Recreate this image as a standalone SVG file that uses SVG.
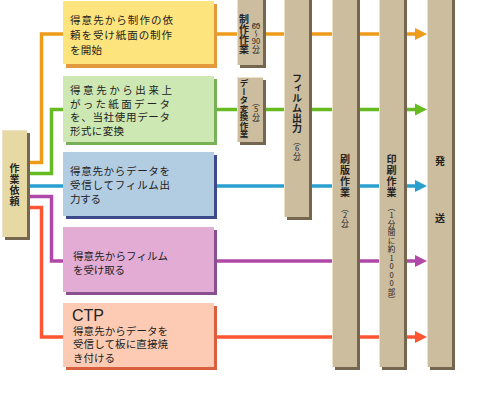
<svg xmlns="http://www.w3.org/2000/svg" xmlns:xlink="http://www.w3.org/1999/xlink" width="490" height="414" viewBox="0 0 490 414">
<style>
.bt{font-family:"Noto Sans CJK JP",sans-serif;font-size:10.5px;fill:#222}
.ctp{font-family:"Liberation Sans",Arial,sans-serif;font-size:16px;fill:#222}
.vt{font-family:"Noto Sans CJK JP",sans-serif;font-weight:bold;font-size:10px;fill:#222;writing-mode:vertical-rl}
.sm{font-family:"Noto Sans CJK JP",sans-serif;font-size:7.5px;fill:#222;writing-mode:vertical-rl;text-orientation:upright}
.col{fill:#cbbd9e}
.csh{fill:#75664f}
.chl{stroke:#ece2c8;stroke-width:1;fill:none}
.ln{fill:none;stroke-width:3.5}
</style>
<defs>
<path id="ah" d="M0,-6 L12,0 L0,6 Z"/>
</defs>
<rect width="490" height="414" fill="#fff"/>
<g id="connectors">
<path class="ln" stroke="#ee9a1a" d="M28,162.5 H41.5 V34 H416"/>
<path class="ln" stroke="#66bb22" d="M28,173.5 H51.5 V109.5 H416"/>
<path class="ln" stroke="#2aa0d0" d="M28,186 H416"/>
<path class="ln" stroke="#b048a8" d="M28,196.5 H51.5 V261 H416"/>
<path class="ln" stroke="#ff5533" d="M28,207.5 H41.5 V337 H416"/>
<use xlink:href="#ah" x="415" y="34" fill="#ee9a1a"/>
<use xlink:href="#ah" x="415" y="109.5" fill="#66bb22"/>
<use xlink:href="#ah" x="415" y="186" fill="#2aa0d0"/>
<use xlink:href="#ah" x="415" y="261" fill="#b048a8"/>
<use xlink:href="#ah" x="415" y="337" fill="#ff5533"/>
</g>
<g id="request">
<rect class="csh" x="5" y="133" width="25" height="107"/>
<rect x="2" y="130" width="25" height="107" fill="#e6d9a3"/>
<path class="chl" d="M2.5,237 V130.5 H27"/>
<text class="vt" x="14.5" y="163" style="letter-spacing:1.2px">作業依頼</text>
</g>
<g id="box1">
<rect x="66" y="4" width="151" height="64" fill="#e39a3c"/>
<rect x="63" y="1" width="151" height="63" fill="#fde47c"/>
<text class="bt" x="70" y="24" textLength="103" lengthAdjust="spacing">得意先から制作の依</text>
<text class="bt" x="70" y="39" textLength="102" lengthAdjust="spacing">頼を受け紙面の制作</text>
<text class="bt" x="70" y="53.5" textLength="32" lengthAdjust="spacing">を開始</text>
</g>
<g id="box2">
<rect x="66" y="79" width="151" height="66" fill="#78b058"/>
<rect x="63" y="76" width="151" height="66" fill="#cde8b2"/>
<text class="bt" x="70" y="94" textLength="102" lengthAdjust="spacing">得意先から出来上</text>
<text class="bt" x="70" y="107.5" textLength="100" lengthAdjust="spacing">がった紙面データ</text>
<text class="bt" x="70" y="121" textLength="100" lengthAdjust="spacing">を、当社使用データ</text>
<text class="bt" x="70" y="134.5" textLength="54" lengthAdjust="spacing">形式に変換</text>
</g>
<g id="box3">
<rect x="66" y="155" width="151" height="64" fill="#3c4a8a"/>
<rect x="63" y="152" width="151" height="64" fill="#b2cce2"/>
<text class="bt" x="70" y="175" textLength="100" lengthAdjust="spacing">得意先からデータを</text>
<text class="bt" x="70" y="189" textLength="100" lengthAdjust="spacing">受信してフィルム出</text>
<text class="bt" x="70" y="203" textLength="31" lengthAdjust="spacing">力する</text>
</g>
<g id="box4">
<rect x="66" y="230" width="151" height="65" fill="#885090"/>
<rect x="63" y="227" width="151" height="65" fill="#e2acd4"/>
<text class="bt" x="73" y="260" textLength="95" lengthAdjust="spacing">得意先からフィルム</text>
<text class="bt" x="73" y="273.5" textLength="52" lengthAdjust="spacing">を受け取る</text>
</g>
<g id="box5">
<rect x="66" y="306" width="151" height="64" fill="#d8603e"/>
<rect x="63" y="303" width="151" height="64" fill="#fdcbb3"/>
<text class="ctp" x="72" y="321">CTP</text>
<text class="bt" x="73" y="334.5" textLength="95" lengthAdjust="spacing">得意先からデータを</text>
<text class="bt" x="73" y="348" textLength="95" lengthAdjust="spacing">受信して板に直接焼</text>
<text class="bt" x="73" y="362" textLength="42" lengthAdjust="spacing">き付ける</text>
</g>
<g id="step-seisaku">
<rect class="csh" x="240" y="-2" width="26" height="70"/>
<rect class="col" x="237" y="-2" width="26" height="67"/>
<path class="chl" d="M237.5,65 V-2"/>
<text class="vt" x="244" y="14">制作作業</text>
<text class="sm" x="256" y="18" style="text-orientation:mixed">（</text>
<text class="sm" x="256" y="29" text-anchor="middle" style="writing-mode:horizontal-tb">60</text>
<text class="sm" x="256" y="30" style="text-orientation:mixed">〜</text>
<text class="sm" x="256" y="44" text-anchor="middle" style="writing-mode:horizontal-tb">90</text>
<text class="sm" x="256" y="45">分）</text>
</g>
<g id="step-data">
<rect class="csh" x="240" y="80" width="26" height="65"/>
<rect class="col" x="237" y="77" width="26" height="65"/>
<path class="chl" d="M237.5,142 V77.5 H263"/>
<text class="vt" x="244" y="79" style="font-size:8.5px">データ変換作業</text>
<text class="sm" x="256" y="98">（5分）</text>
</g>
<g id="step-film">
<rect class="csh" x="287" y="-2" width="25" height="222"/>
<rect class="col" x="284" y="-2" width="25" height="219"/>
<path class="chl" d="M284.5,217 V-2"/>
<text class="vt" x="297" y="73">フィルム出力</text>
<text class="sm" x="297" y="137">（6分）</text>
</g>
<g id="step-plate">
<rect class="csh" x="335" y="-2" width="25" height="372"/>
<rect class="col" x="332" y="-2" width="25" height="369"/>
<path class="chl" d="M332.5,367 V-2"/>
<text class="vt" x="345" y="154" style="letter-spacing:1px">刷版作業</text>
<text class="sm" x="345" y="204">（2分）</text>
</g>
<g id="step-print">
<rect class="csh" x="382" y="-2" width="25" height="372"/>
<rect class="col" x="379" y="-2" width="25" height="369"/>
<path class="chl" d="M379.5,367 V-2"/>
<text class="vt" x="391.5" y="154" style="letter-spacing:1px">印刷作業</text>
<text class="sm" x="391.5" y="203" style="letter-spacing:1px">（1分間に約1000部）</text>
</g>
<g id="step-ship">
<rect class="csh" x="430" y="-2" width="25" height="372"/>
<rect class="col" x="427" y="-2" width="25" height="369"/>
<path class="chl" d="M427.5,367 V-2"/>
<text class="vt" x="440" y="156">発</text>
<text class="vt" x="440" y="213">送</text>
</g>
</svg>
